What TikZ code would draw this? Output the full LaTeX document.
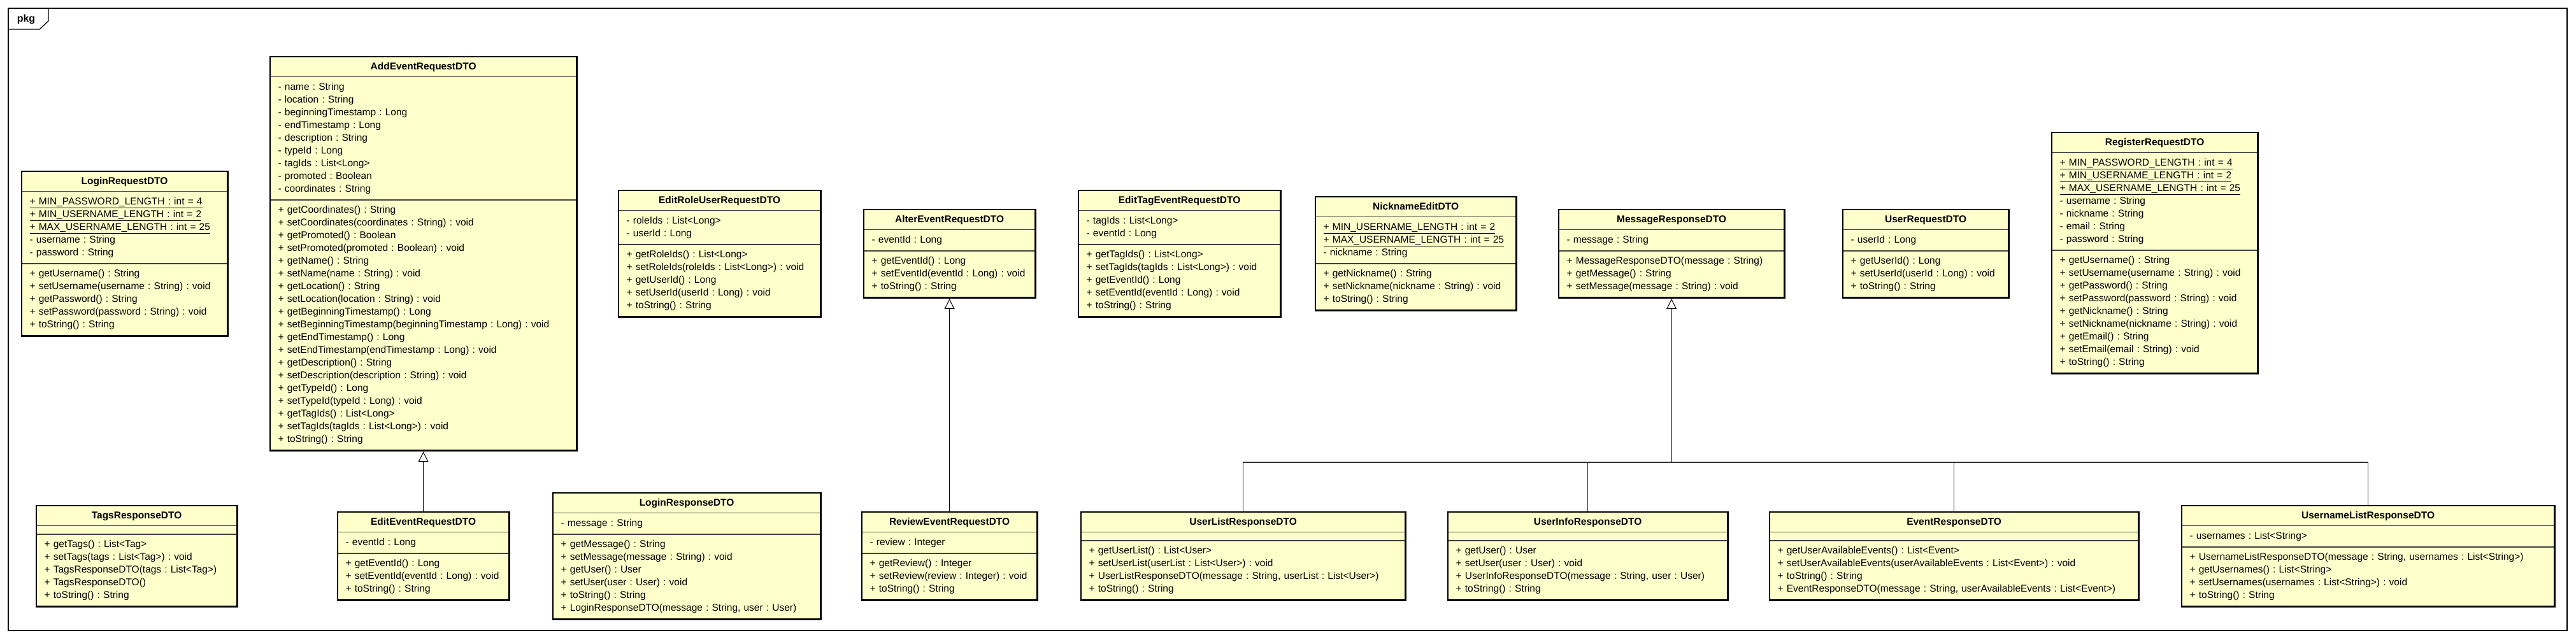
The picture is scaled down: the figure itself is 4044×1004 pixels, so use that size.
\documentclass[tikz,border=0pt]{standalone}
\usepackage{fontspec}
\setmainfont{Liberation Sans}
\usetikzlibrary{shapes.multipart,arrows.meta}
\definecolor{dtofill}{HTML}{FFFFCC}
\newcommand{\dtoname}[1]{\hbox to\hsize{\hfil\rule[-5pt]{0pt}{18pt}\textbf{#1}\hfil}}
\newcommand{\dtorows}[1]{\strut#1\strut}
\frenchspacing

\begin{document}
\begin{tikzpicture}[x=1pt,y=-1pt,
  dto/.style={rectangle split, rectangle split parts=3, draw=black!75, line width=1.2pt,
    fill=dtofill, inner xsep=12pt, inner ysep=6pt, align=left, anchor=north west,
    font=\fontsize{15.5pt}{20pt}\selectfont\frenchspacing},
  generalize/.style={-{Triangle[open,length=16pt,width=16pt]}, line width=1pt,
    shorten >=1.4pt, shorten <=1.4pt},
  busline/.style={line width=1.2pt, black!80, shorten <=1.4pt}]
  \useasboundingbox (0,0) rectangle (4044,1004);

  % package frame
  \draw[line width=1.3pt] (13,13) rectangle (4030,990);
  \draw[line width=1.3pt] (13,46) -- (62,46) -- (76,33) -- (76,13);
  \node[font=\fontsize{16pt}{18pt}\selectfont\bfseries] (pkglabel) at (41,30) {pkg};

  \node[dto, text width=298pt] (LoginReq) at (34,269) {\dtoname{LoginRequestDTO}
    \nodepart{two}\dtorows{\underline{+ MIN\_PASSWORD\_LENGTH : int = 4}\\
      \underline{+ MIN\_USERNAME\_LENGTH : int = 2}\\
      \underline{+ MAX\_USERNAME\_LENGTH : int = 25}\\
      - username : String\\
      - password : String}
    \nodepart{three}\dtorows{+ getUsername() : String\\
      + setUsername(username : String) : void\\
      + getPassword() : String\\
      + setPassword(password : String) : void\\
      + toString() : String}};

  \node[dto, text width=456pt] (AddEvent) at (424,89) {\dtoname{AddEventRequestDTO}
    \nodepart{two}\dtorows{- name : String\\
      - location : String\\
      - beginningTimestamp : Long\\
      - endTimestamp : Long\\
      - description : String\\
      - typeId : Long\\
      - tagIds : List<Long>\\
      - promoted : Boolean\\
      - coordinates : String}
    \nodepart{three}\dtorows{+ getCoordinates() : String\\
      + setCoordinates(coordinates : String) : void\\
      + getPromoted() : Boolean\\
      + setPromoted(promoted : Boolean) : void\\
      + getName() : String\\
      + setName(name : String) : void\\
      + getLocation() : String\\
      + setLocation(location : String) : void\\
      + getBeginningTimestamp() : Long\\
      + setBeginningTimestamp(beginningTimestamp : Long) : void\\
      + getEndTimestamp() : Long\\
      + setEndTimestamp(endTimestamp : Long) : void\\
      + getDescription() : String\\
      + setDescription(description : String) : void\\
      + getTypeId() : Long\\
      + setTypeId(typeId : Long) : void\\
      + getTagIds() : List<Long>\\
      + setTagIds(tagIds : List<Long>) : void\\
      + toString() : String}};

  \node[dto, text width=290pt] (TagsResp) at (57,794) {\dtoname{TagsResponseDTO}
    \nodepart{two}
    \nodepart{three}\dtorows{+ getTags() : List<Tag>\\
      + setTags(tags : List<Tag>) : void\\
      + TagsResponseDTO(tags : List<Tag>)\\
      + TagsResponseDTO()\\
      + toString() : String}};

  \node[dto, text width=244pt, anchor=north] (EditEvent) at (AddEvent.south |- 0,804) {\dtoname{EditEventRequestDTO}
    \nodepart{two}\dtorows{- eventId : Long}
    \nodepart{three}\dtorows{+ getEventId() : Long\\
      + setEventId(eventId : Long) : void\\
      + toString() : String}};

  \node[dto, text width=395pt] (LoginResp) at (868,774) {\dtoname{LoginResponseDTO}
    \nodepart{two}\dtorows{- message : String}
    \nodepart{three}\dtorows{+ getMessage() : String\\
      + setMessage(message : String) : void\\
      + getUser() : User\\
      + setUser(user : User) : void\\
      + toString() : String\\
      + LoginResponseDTO(message : String, user : User)}};

  \node[dto, text width=292pt] (EditRole) at (971,299) {\dtoname{EditRoleUserRequestDTO}
    \nodepart{two}\dtorows{- roleIds : List<Long>\\
      - userId : Long}
    \nodepart{three}\dtorows{+ getRoleIds() : List<Long>\\
      + setRoleIds(roleIds : List<Long>) : void\\
      + getUserId() : Long\\
      + setUserId(userId : Long) : void\\
      + toString() : String}};

  \node[dto, text width=244pt] (AlterEvent) at (1356,329) {\dtoname{AlterEventRequestDTO}
    \nodepart{two}\dtorows{- eventId : Long}
    \nodepart{three}\dtorows{+ getEventId() : Long\\
      + setEventId(eventId : Long) : void\\
      + toString() : String}};

  \node[dto, text width=250pt, anchor=north] (ReviewEvent) at (AlterEvent.south |- 0,804) {\dtoname{ReviewEventRequestDTO}
    \nodepart{two}\dtorows{- review : Integer}
    \nodepart{three}\dtorows{+ getReview() : Integer\\
      + setReview(review : Integer) : void\\
      + toString() : String}};

  \node[dto, text width=292pt] (EditTag) at (1693,299) {\dtoname{EditTagEventRequestDTO}
    \nodepart{two}\dtorows{- tagIds : List<Long>\\
      - eventId : Long}
    \nodepart{three}\dtorows{+ getTagIds() : List<Long>\\
      + setTagIds(tagIds : List<Long>) : void\\
      + getEventId() : Long\\
      + setEventId(eventId : Long) : void\\
      + toString() : String}};

  \node[dto, text width=290pt] (NicknameEdit) at (2065,309) {\dtoname{NicknameEditDTO}
    \nodepart{two}\dtorows{\underline{+ MIN\_USERNAME\_LENGTH : int = 2}\\
      \underline{+ MAX\_USERNAME\_LENGTH : int = 25}\\
      - nickname : String}
    \nodepart{three}\dtorows{+ getNickname() : String\\
      + setNickname(nickname : String) : void\\
      + toString() : String}};

  \node[dto, text width=329pt] (MessageResp) at (2447,329) {\dtoname{MessageResponseDTO}
    \nodepart{two}\dtorows{- message : String}
    \nodepart{three}\dtorows{+ MessageResponseDTO(message : String)\\
      + getMessage() : String\\
      + setMessage(message : String) : void}};

  \node[dto, text width=235pt] (UserReq) at (2893,329) {\dtoname{UserRequestDTO}
    \nodepart{two}\dtorows{- userId : Long}
    \nodepart{three}\dtorows{+ getUserId() : Long\\
      + setUserId(userId : Long) : void\\
      + toString() : String}};

  \node[dto, text width=298pt] (RegisterReq) at (3221,208) {\dtoname{RegisterRequestDTO}
    \nodepart{two}\dtorows{\underline{+ MIN\_PASSWORD\_LENGTH : int = 4}\\
      \underline{+ MIN\_USERNAME\_LENGTH : int = 2}\\
      \underline{+ MAX\_USERNAME\_LENGTH : int = 25}\\
      - username : String\\
      - nickname : String\\
      - email : String\\
      - password : String}
    \nodepart{three}\dtorows{+ getUsername() : String\\
      + setUsername(username : String) : void\\
      + getPassword() : String\\
      + setPassword(password : String) : void\\
      + getNickname() : String\\
      + setNickname(nickname : String) : void\\
      + getEmail() : String\\
      + setEmail(email : String) : void\\
      + toString() : String}};

  \node[dto, text width=484pt] (UserListResp) at (1697,804) {\dtoname{UserListResponseDTO}
    \nodepart{two}
    \nodepart{three}\dtorows{+ getUserList() : List<User>\\
      + setUserList(userList : List<User>) : void\\
      + UserListResponseDTO(message : String, userList : List<User>)\\
      + toString() : String}};

  \node[dto, text width=414pt] (UserInfoResp) at (2273,804) {\dtoname{UserInfoResponseDTO}
    \nodepart{two}
    \nodepart{three}\dtorows{+ getUser() : User\\
      + setUser(user : User) : void\\
      + UserInfoResponseDTO(message : String, user : User)\\
      + toString() : String}};

  \node[dto, text width=554pt] (EventResp) at (2778,804) {\dtoname{EventResponseDTO}
    \nodepart{two}
    \nodepart{three}\dtorows{+ getUserAvailableEvents() : List<Event>\\
      + setUserAvailableEvents(userAvailableEvents : List<Event>) : void\\
      + toString() : String\\
      + EventResponseDTO(message : String, userAvailableEvents : List<Event>)}};

  \node[dto, text width=560pt] (UsernameListResp) at (3425,794) {\dtoname{UsernameListResponseDTO}
    \nodepart{two}\dtorows{- usernames : List<String>}
    \nodepart{three}\dtorows{+ UsernameListResponseDTO(message : String, usernames : List<String>)\\
      + getUsernames() : List<String>\\
      + setUsernames(usernames : List<String>) : void\\
      + toString() : String}};

  % thick class borders
  \foreach \cls in {LoginReq,AddEvent,TagsResp,EditEvent,LoginResp,EditRole,AlterEvent,
      ReviewEvent,EditTag,NicknameEdit,MessageResp,UserReq,RegisterReq,UserListResp,
      UserInfoResp,EventResp,UsernameListResp}
    \draw[line width=2.7pt] (\cls.north west) rectangle (\cls.south east);

  % generalizations
  \draw[generalize] (EditEvent.north) -- (AddEvent.south);
  \draw[generalize] (ReviewEvent.north) -- (AlterEvent.south);
  \coordinate (busjoint) at (MessageResp.south |- 0,726);
  \foreach \cls in {UserListResp,UserInfoResp,EventResp,UsernameListResp}
    \draw[busline] (\cls.north) |- (busjoint);
  \draw[generalize] (busjoint) -- (MessageResp.south);
\end{tikzpicture}
\end{document}
